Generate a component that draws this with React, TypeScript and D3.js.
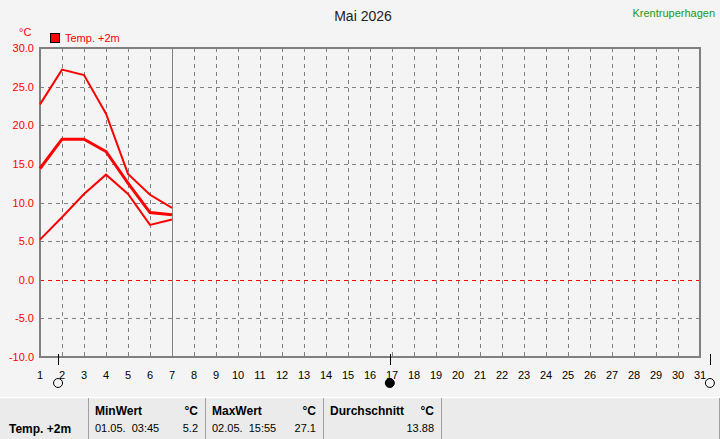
import React from "react";
import * as d3 from "d3";

const days = [1, 2, 3, 4, 5, 6, 7];
const maxTemp = [22.7, 27.2, 26.5, 21.5, 13.7, 11.0, 9.3];
const avgTemp = [14.4, 18.2, 18.2, 16.6, 12.5, 8.7, 8.4];
const minTemp = [5.2, 8.1, 11.1, 13.6, 11.1, 7.1, 7.8];
const yTicks = [30, 25, 20, 15, 10, 5, 0, -5, -10];
const xTicks = d3.range(1, 32);
const moonDays = [1.82, 16.9, 31.45];
const moonFilled = [false, true, false];

const W = 720;
const H = 439;
const FONT = "'Liberation Sans', Arial, sans-serif";

export default function App() {
  const x = d3.scaleLinear().domain([1, 31]).range([40, 700]);
  const y = d3.scaleLinear().domain([-10, 30]).range([357, 48]);
  const line = d3
    .line<number>()
    .x((_, i) => x(days[i]))
    .y((d) => y(d));
  const px = (v: number) => Math.round(v) + 0.5;

  const grey = "#808080";
  return (
    <svg
      width={W}
      height={H}
      style={{ position: "absolute", left: 0, top: 0, background: "#f4f4f4" }}
      fontFamily={FONT}
    >
      <rect x={0} y={0} width={W} height={H} fill="#f4f4f4" />
      {/* title */}
      <text x={363} y={21} textAnchor="middle" fontSize={14} fill="#222">
        Mai 2026
      </text>
      <text x={715} y={17} textAnchor="end" fontSize={11} fill="#1a9a1a">
        Krentruperhagen
      </text>
      {/* unit and legend */}
      <text x={19} y={36} fontSize={11} fill="#ff0000">
        °C
      </text>
      <rect x={50.5} y={33.5} width={9} height={9} fill="#ff0000" stroke="#000" />
      <text x={65} y={42} fontSize={11} fill="#ff0000">
        Temp. +2m
      </text>

      {/* grid */}
      <g shapeRendering="crispEdges">
        {xTicks.slice(1, -1).map((d) => (
          <line
            key={"vx" + d}
            x1={px(x(d))}
            x2={px(x(d))}
            y1={y(30)}
            y2={y(-10)}
            stroke={grey}
            strokeDasharray="4,4"
            strokeWidth={1}
          />
        ))}
        {yTicks.slice(1, -1).map((d) => (
          <line
            key={"hy" + d}
            x1={x(1)}
            x2={x(31)}
            y1={px(y(d))}
            y2={px(y(d))}
            stroke={d === 0 ? "#ff0000" : grey}
            strokeDasharray="4,4"
            strokeWidth={1}
          />
        ))}
        {/* current day line */}
        <line x1={px(x(7))} x2={px(x(7))} y1={y(30)} y2={y(-10)} stroke={grey} strokeWidth={1.5} />
        {/* frame */}
        <rect
          x={x(1)}
          y={Math.round(y(30))}
          width={x(31) - x(1)}
          height={Math.round(y(-10)) - Math.round(y(30))}
          fill="none"
          stroke={grey}
          strokeWidth={2}
        />
      </g>

      {/* y labels */}
      {yTicks.map((d) => (
        <text
          key={"yl" + d}
          x={34}
          y={y(d) + 4}
          textAnchor="end"
          fontSize={11}
          fill="#ff0000"
        >
          {d.toFixed(1)}
        </text>
      ))}
      {/* x labels */}
      {xTicks.map((d) => (
        <text key={"xl" + d} x={x(d)} y={379} textAnchor="middle" fontSize={11} fill="#000">
          {d}
        </text>
      ))}
      {/* moon phases */}
      {moonDays.map((d, i) => (
        <g key={"m" + i}>
          <line x1={px(x(d))} x2={px(x(d))} y1={354} y2={365} stroke="#000" strokeWidth={1} />
          <circle
            cx={x(d)}
            cy={383}
            r={4.5}
            fill={moonFilled[i] ? "#000" : "#f4f4f4"}
            stroke="#000"
            strokeWidth={1}
          />
        </g>
      ))}

      {/* series */}
      <path d={line(maxTemp) || ""} fill="none" stroke="#ff0000" strokeWidth={2} />
      <path d={line(minTemp) || ""} fill="none" stroke="#ff0000" strokeWidth={2} />
      <path d={line(avgTemp) || ""} fill="none" stroke="#ff0000" strokeWidth={3} />

      {/* table */}
      <rect x={0} y={397} width={720} height={42} fill="#ebebeb" />
      <line x1={0} x2={720} y1={397.5} y2={397.5} stroke="#ffffff" strokeWidth={1.5} />
      {[88, 205, 323, 441, 719].map((sx) => (
        <line key={"sep" + sx} x1={sx + 0.5} x2={sx + 0.5} y1={398} y2={439} stroke="#a0a0a0" strokeWidth={1} />
      ))}
      <text x={9} y={433} fontSize={12} fontWeight="bold" fill="#000">
        Temp. +2m
      </text>
      <text x={95} y={415} fontSize={12} fontWeight="bold" fill="#000">
        MinWert
      </text>
      <text x={198} y={415} textAnchor="end" fontSize={12} fontWeight="bold" fill="#000">
        °C
      </text>
      <text x={95} y={432} fontSize={11} fill="#000" style={{ whiteSpace: "pre" }}>
        {"01.05.  03:45"}
      </text>
      <text x={198} y={432} textAnchor="end" fontSize={11} fill="#000">
        5.2
      </text>
      <text x={212} y={415} fontSize={12} fontWeight="bold" fill="#000">
        MaxWert
      </text>
      <text x={316} y={415} textAnchor="end" fontSize={12} fontWeight="bold" fill="#000">
        °C
      </text>
      <text x={212} y={432} fontSize={11} fill="#000" style={{ whiteSpace: "pre" }}>
        {"02.05.  15:55"}
      </text>
      <text x={316} y={432} textAnchor="end" fontSize={11} fill="#000">
        27.1
      </text>
      <text x={330} y={415} fontSize={12} fontWeight="bold" fill="#000">
        Durchschnitt
      </text>
      <text x={434} y={415} textAnchor="end" fontSize={12} fontWeight="bold" fill="#000">
        °C
      </text>
      <text x={434} y={432} textAnchor="end" fontSize={11} fill="#000">
        13.88
      </text>
    </svg>
  );
}
